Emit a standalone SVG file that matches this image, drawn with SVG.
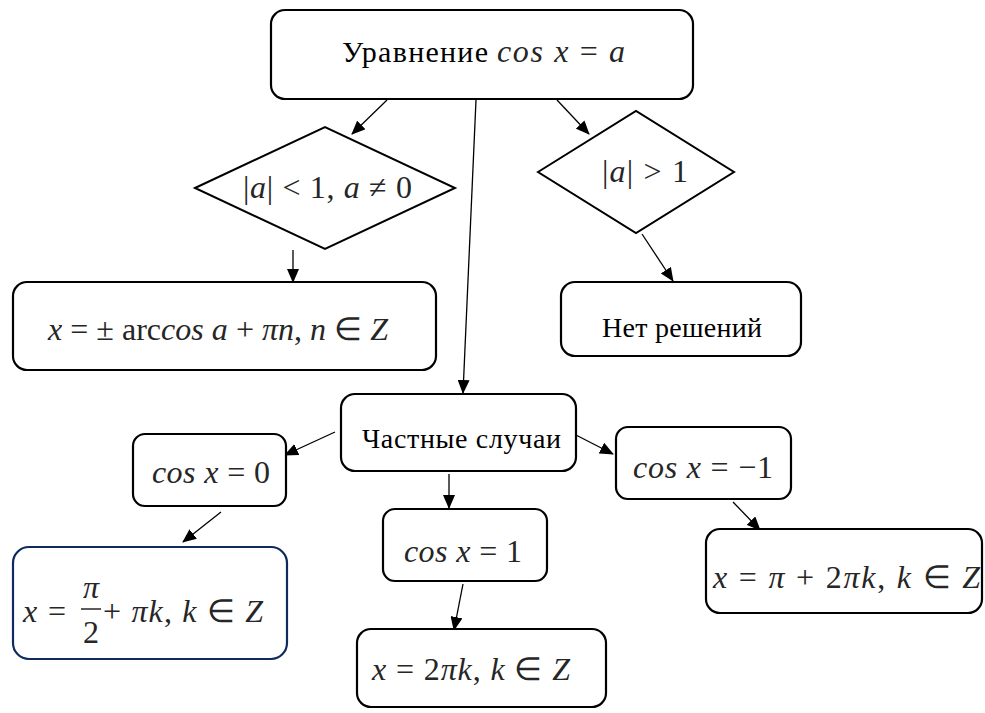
<svg xmlns="http://www.w3.org/2000/svg" width="985" height="713" viewBox="0 0 985 713">
<style>
.box{fill:#fff;stroke:#000;stroke-width:2.2}
.navy{fill:#fff;stroke:#0f2a5e;stroke-width:2.2}
.dia{fill:#fff;stroke:#000;stroke-width:2}
.ln{stroke:#000;stroke-width:1.3;fill:none;marker-end:url(#ah)}
.t{font-family:"Liberation Serif","Times New Roman",serif;font-size:28px;fill:#000}
.m{font-family:"Liberation Serif","Times New Roman",serif;font-size:32px;fill:#262626}
.i{font-style:italic}
</style>
<defs>
<marker id="ah" markerWidth="14" markerHeight="12" refX="13" refY="6" orient="auto" markerUnits="userSpaceOnUse">
<path d="M0,0 L14,6 L0,12 Z" fill="#000"/>
</marker>
</defs>
<g id="connectors">
<line class="ln" x1="387" y1="100" x2="352" y2="134"/>
<line class="ln" x1="476" y1="100" x2="463" y2="393"/>
<line class="ln" x1="557" y1="100" x2="589" y2="134"/>
<line class="ln" x1="293" y1="250" x2="293" y2="282"/>
<line class="ln" x1="642" y1="234" x2="673" y2="281"/>
<line class="ln" x1="335" y1="432" x2="285" y2="455"/>
<line class="ln" x1="572" y1="433" x2="613" y2="454"/>
<line class="ln" x1="449" y1="474" x2="449" y2="508"/>
<line class="ln" x1="221" y1="512" x2="183" y2="542"/>
<line class="ln" x1="463" y1="584" x2="454" y2="630"/>
<line class="ln" x1="733" y1="502" x2="760" y2="530"/>
</g>
<g id="start">
<rect class="box" x="271" y="10" width="422" height="89" rx="14"/>
<text class="t" x="342" y="62" style="font-size:30px" textLength="146">Уравнение</text>
<text class="m" x="497" y="62" textLength="128"><tspan class="i">cos x</tspan> = <tspan class="i">a</tspan></text>
</g>
<g id="cond1">
<polygon class="dia" points="195,188 325,127 455,188 325,249"/>
<text class="m" x="243" y="198" textLength="169">|<tspan class="i">a</tspan>| &lt; 1, <tspan class="i">a</tspan> ≠ 0</text>
</g>
<g id="cond2">
<polygon class="dia" points="538,172 636,111 734,172 636,233"/>
<text class="m" x="602" y="182" textLength="86">|<tspan class="i">a</tspan>| &gt; 1</text>
</g>
<g id="general">
<rect class="box" x="13" y="282" width="423" height="88" rx="14"/>
<text class="m" x="48" y="340" textLength="340"><tspan class="i">x</tspan> = ± arc<tspan class="i">cos a</tspan> + <tspan class="i">πn</tspan>, <tspan class="i">n</tspan>  ∈ <tspan class="i">Z</tspan></text>
</g>
<g id="nosol">
<rect class="box" x="561" y="282" width="240" height="74" rx="14"/>
<text class="t" x="602" y="337" textLength="160">Нет решений</text>
</g>
<g id="special">
<rect class="box" x="341" y="394" width="235" height="77" rx="14"/>
<text class="t" x="362" y="448" textLength="199">Частные случаи</text>
</g>
<g id="cos0">
<rect class="box" x="133" y="434" width="153" height="72" rx="12"/>
<text class="m" x="152" y="483" textLength="118"><tspan class="i">cos x</tspan> = 0</text>
</g>
<g id="cos1">
<rect class="box" x="383" y="509" width="164" height="72" rx="12"/>
<text class="m" x="404" y="562" textLength="118"><tspan class="i">cos x</tspan> = 1</text>
</g>
<g id="cosm1">
<rect class="box" x="616" y="427" width="175" height="72" rx="12"/>
<text class="m" x="633" y="478" textLength="140"><tspan class="i">cos x</tspan> = −1</text>
</g>
<g id="sol0">
<rect class="navy" x="13" y="547" width="274" height="112" rx="16"/>
<text class="m" x="23" y="622"><tspan class="i">x</tspan><tspan x="48">=</tspan></text>
<text class="m i" x="91" y="598" text-anchor="middle">π</text>
<line x1="81" y1="609" x2="101" y2="609" stroke="#262626" stroke-width="1.5"/>
<text class="m" x="91" y="643" text-anchor="middle">2</text>
<text class="m" x="103" y="622" textLength="160">+ <tspan class="i">πk</tspan>, <tspan class="i">k</tspan> ∈ <tspan class="i">Z</tspan></text>
</g>
<g id="sol1">
<rect class="box" x="357" y="629" width="249" height="78" rx="14"/>
<text class="m" x="372" y="680" textLength="198"><tspan class="i">x</tspan> = 2<tspan class="i">πk</tspan>, <tspan class="i">k</tspan> ∈ <tspan class="i">Z</tspan></text>
</g>
<g id="solm1">
<rect class="box" x="706" y="529" width="276" height="84" rx="14"/>
<text class="m" x="713" y="588" textLength="267"><tspan class="i">x</tspan> = <tspan class="i">π</tspan> + 2<tspan class="i">πk</tspan>, <tspan class="i">k</tspan> ∈ <tspan class="i">Z</tspan></text>
</g>
</svg>
